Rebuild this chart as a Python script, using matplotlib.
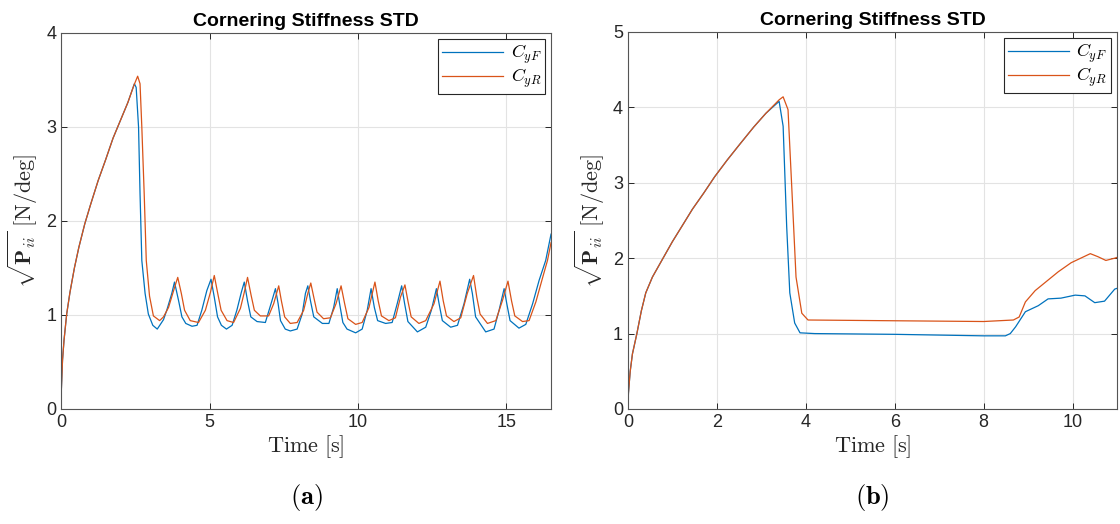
import matplotlib
matplotlib.use('Agg')
import matplotlib.pyplot as plt

# (a) time points and values for C_yF / C_yR
time_a_f = [0, 0.01, 0.05, 0.1, 0.19, 0.3, 0.45, 0.6, 0.8, 1.0, 1.25, 1.5, 1.75, 2.0, 2.25,
            2.47, 2.53, 2.61, 2.66, 2.72,
            2.83, 2.94, 3.09, 3.24, 3.45, 3.56, 3.73, 3.82, 3.96, 4.07, 4.2, 4.41, 4.58, 4.74,
            4.91, 5.05, 5.16, 5.27, 5.4, 5.57, 5.76, 5.92, 6.07, 6.17, 6.28, 6.39, 6.6, 6.88,
            7.1, 7.22, 7.31, 7.39, 7.55, 7.72, 7.95, 8.12, 8.23, 8.31, 8.4, 8.51, 8.8, 9.02,
            9.18, 9.3, 9.38, 9.49, 9.63, 9.92, 10.14, 10.31, 10.44, 10.55, 10.66, 10.93, 11.15,
            11.32, 11.47, 11.57, 11.68, 12.0, 12.28, 12.47, 12.64, 12.73, 12.84, 13.12, 13.35,
            13.57, 13.76, 13.85, 13.96, 14.3, 14.58, 14.75, 14.92, 15.01, 15.12, 15.42, 15.65,
            15.88, 16.1, 16.32, 16.5]
cyf_a = [0, 0.2, 0.52, 0.73, 1.01, 1.24, 1.5, 1.72, 1.97, 2.18, 2.43, 2.65, 2.88, 3.07, 3.26,
         3.46, 3.42, 3.0, 2.29, 1.58,
         1.23, 1.01, 0.89, 0.85, 0.95, 1.05, 1.23, 1.35, 1.15, 0.98, 0.91, 0.88, 0.89, 1.05,
         1.26, 1.38, 1.19, 0.98, 0.89, 0.85, 0.89, 1.05, 1.24, 1.35, 1.15, 0.98, 0.93, 0.92,
         1.15, 1.28, 1.12, 0.94, 0.85, 0.83, 0.85, 1.01, 1.23, 1.31, 1.15, 0.98, 0.91, 0.91,
         1.08, 1.28, 1.12, 0.92, 0.85, 0.81, 0.85, 1.05, 1.28, 1.08, 0.94, 0.91, 0.92,
         1.12, 1.31, 1.12, 0.93, 0.82, 0.87, 1.05, 1.28, 1.12, 0.94, 0.87, 0.89,
         1.12, 1.38, 1.23, 0.98, 0.82, 0.85, 1.05, 1.28, 1.12, 0.94, 0.86, 0.9,
         1.12, 1.37, 1.58, 1.86]

time_a_r = [0, 0.01, 0.05, 0.1, 0.19, 0.3, 0.45, 0.6, 0.8, 1.0, 1.25, 1.5, 1.75, 2.0, 2.25,
            2.45, 2.58, 2.66, 2.72, 2.8,
            2.87, 2.98, 3.11, 3.32, 3.45, 3.62, 3.82, 3.93, 4.05, 4.16, 4.35, 4.63, 4.86, 5.03,
            5.16, 5.27, 5.39, 5.59, 5.81, 6.04, 6.17, 6.28, 6.4, 6.51, 6.71, 6.99, 7.16, 7.33,
            7.42, 7.53, 7.72, 7.95, 8.17, 8.31, 8.41, 8.51, 8.62, 8.84, 9.07, 9.26, 9.43, 9.55,
            9.66, 9.92, 10.14, 10.37, 10.57, 10.68, 10.79, 11.04, 11.26, 11.43, 11.58, 11.68,
            11.79, 12.05, 12.28, 12.56, 12.76, 12.87, 12.98, 13.23, 13.46, 13.68, 13.89, 14.0,
            14.11, 14.36, 14.64, 14.86, 15.05, 15.17, 15.28, 15.54, 15.76, 15.99, 16.21, 16.38,
            16.5]
cyr_a = [0, 0.2, 0.52, 0.73, 1.01, 1.24, 1.5, 1.72, 1.97, 2.18, 2.43, 2.65, 2.88, 3.07, 3.26,
         3.44, 3.54, 3.46, 3.0, 2.29,
         1.58, 1.2, 0.99, 0.94, 0.98, 1.08, 1.29, 1.40, 1.23, 1.05, 0.94, 0.92, 1.05, 1.24,
         1.42, 1.24, 1.05, 0.94, 0.92, 1.07, 1.24, 1.40, 1.21, 1.05, 0.99, 0.99, 1.12, 1.31,
         1.15, 0.98, 0.91, 0.92, 1.05, 1.23, 1.34, 1.19, 1.03, 0.96, 0.97, 1.12, 1.31, 1.12,
         0.96, 0.90, 0.92, 1.08, 1.35, 1.15, 0.99, 0.94, 0.97, 1.19, 1.32, 1.15,
         0.98, 0.91, 0.94, 1.12, 1.36, 1.15, 0.99, 0.93, 0.97, 1.23, 1.42, 1.19,
         1.01, 0.91, 0.94, 1.15, 1.36, 1.15, 0.99, 0.93, 0.94, 1.14, 1.39, 1.58,
         1.77]

# (b)
time_b_f = [0, 0.01, 0.05, 0.1, 0.2, 0.3, 0.4, 0.55, 0.77, 1.0, 1.21, 1.45, 1.7, 1.95, 2.23,
            2.5, 2.83, 3.1, 3.4, 3.49, 3.57, 3.64, 3.75,
            3.87, 4.2, 6.0, 8.0, 8.49, 8.6, 8.72, 8.94, 9.23, 9.45, 9.74, 10.06, 10.28, 10.5,
            10.72, 10.95, 11.0]
cyf_b = [0, 0.21, 0.5, 0.73, 1.0, 1.3, 1.54, 1.75, 1.98, 2.22, 2.42, 2.65, 2.86, 3.08, 3.3,
         3.5, 3.74, 3.92, 4.08, 3.75, 2.42, 1.54, 1.14,
         1.01, 1.0, 0.99, 0.97, 0.97, 1.0, 1.09, 1.29, 1.37, 1.46, 1.47, 1.51, 1.50, 1.41,
         1.43, 1.59, 1.6]

time_b_r = [0, 0.01, 0.05, 0.1, 0.2, 0.3, 0.4, 0.55, 0.77, 1.0, 1.21, 1.45, 1.7, 1.95, 2.23,
            2.5, 2.83, 3.1, 3.4, 3.49, 3.6, 3.69, 3.78,
            3.91, 4.05, 6.0, 8.0, 8.67, 8.8, 8.94, 9.16, 9.68, 9.97, 10.4, 10.57, 10.75, 10.95,
            11.0]
cyr_b = [0, 0.21, 0.5, 0.73, 1.0, 1.3, 1.54, 1.75, 1.98, 2.22, 2.42, 2.65, 2.86, 3.08, 3.3,
         3.5, 3.74, 3.92, 4.1, 4.14, 3.97, 2.87, 1.75,
         1.27, 1.18, 1.17, 1.16, 1.18, 1.22, 1.42, 1.57, 1.82, 1.94, 2.06, 2.02, 1.97, 2.0,
         2.01]

blue = '#0072BD'
orange = '#D95319'

plt.rcParams['font.family'] = ['Liberation Sans', 'DejaVu Sans']
plt.rcParams['mathtext.fontset'] = 'cm'

fig = plt.figure(figsize=(11.2, 5.24), dpi=100)
ax1 = fig.add_axes([0.0545, 0.2195, 0.4375, 0.7176])
ax2 = fig.add_axes([0.5607, 0.2195, 0.4366, 0.7195])

panels = [
    (ax1, time_a_f, cyf_a, time_a_r, cyr_a, (0, 16.5), (0, 4), [0, 5, 10, 15], range(0, 5), '(a)'),
    (ax2, time_b_f, cyf_b, time_b_r, cyr_b, (0, 11), (0, 5), range(0, 11, 2), range(0, 6), '(b)'),
]

for ax, tf, yf, tr, yr, xl, yl, xt, yt, cap in panels:
    ax.plot(tf, yf, color=blue, lw=0.9, label=r'$C_{yF}$')
    ax.plot(tr, yr, color=orange, lw=0.9, label=r'$C_{yR}$')
    ax.set_xlim(*xl)
    ax.set_ylim(*yl)
    ax.set_xticks(list(xt))
    ax.set_yticks(list(yt))
    ax.grid(True, color='#e3e3e3', lw=0.8)
    ax.set_axisbelow(True)
    ax.tick_params(direction='in', top=True, right=True, labelsize=13,
                   colors='#262626', length=4, width=0.7)
    for s in ax.spines.values():
        s.set_color('#555555')
        s.set_linewidth(0.8)
    ax.set_title('Cornering Stiffness STD', fontsize=14, fontweight='bold', pad=5)
    ax.set_xlabel(r'$\mathrm{Time\ [s]}$', fontsize=16, color='#262626', labelpad=2)
    ax.set_ylabel(r'$\sqrt{\mathbf{P}_{ii}}\ \mathrm{[N/deg]}$', fontsize=16,
                  color='#262626', labelpad=4)
    leg = ax.legend(loc='upper right', fontsize=13, fancybox=False, framealpha=1,
                    edgecolor='#262626', handlelength=3.4, borderaxespad=0.35,
                    borderpad=0.2, labelspacing=0.05, handletextpad=0.4)
    leg.get_frame().set_linewidth(0.8)
    pos = ax.get_position()
    fig.text(pos.x0 + pos.width / 2, 0.05, r'$\mathbf{' + cap + '}$', fontsize=19,
             ha='center', va='center')

fig.savefig('out.png', dpi=100)
